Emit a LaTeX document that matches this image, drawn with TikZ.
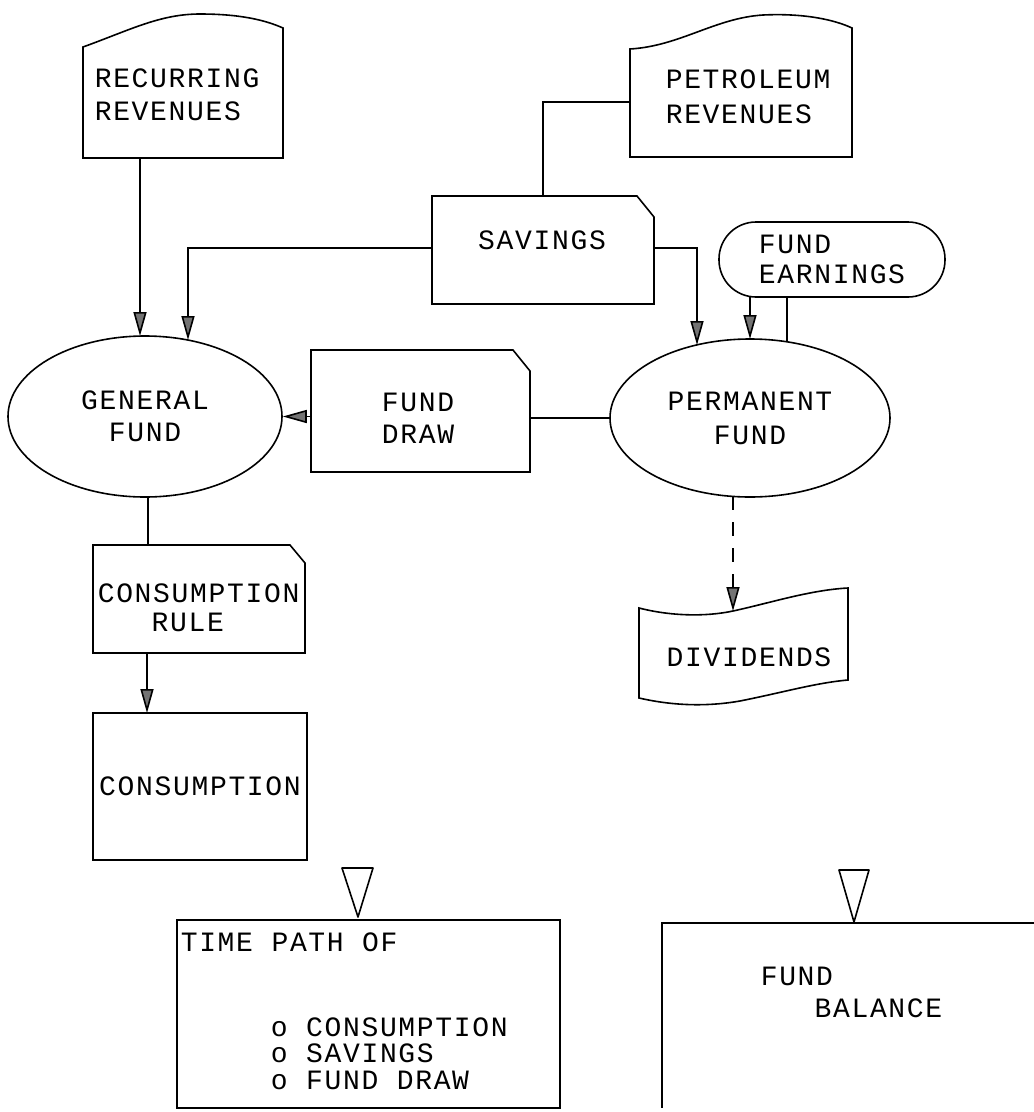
\documentclass[tikz,border=0pt]{standalone}
\usepackage{fontspec}
\newfontfamily\dm[LetterSpace=6]{Liberation Mono}
\usetikzlibrary{arrows.meta,shapes.geometric}
\begin{document}
\begin{tikzpicture}[x=1pt,y=-1pt,
  line width=1.6pt, line join=miter,
  txt/.style={font={\dm\fontsize{28}{33}\selectfont}, inner sep=0pt, align=left},
  lbl/.style={txt, anchor=west},
  arr/.style={-{Triangle[width=13pt,length=24pt,fill=black!55]}},
  marker/.style={line join=round},
]
\fill[white] (0,0) rectangle (1034,1112);
\useasboundingbox (0,0) rectangle (1034,1112);

% ---------- Recurring revenues (document shape)
\draw (83,158) -- (83,47) .. controls (130,30) and (160,14) .. (200,14)
      .. controls (240,14) and (265,20) .. (283,28) -- (283,158) -- cycle;
\node[lbl, font={\dm\fontsize{28}{32.5}\selectfont}] (rec) at (94,94.7) {RECURRING\\REVENUES};
\coordinate (recB) at (140,158);

% ---------- Petroleum revenues (document shape)
\draw (630,157) -- (630,49) .. controls (680,46) and (715,18) .. (763,15)
      .. controls (805,13) and (835,20) .. (852,28) -- (852,157) -- cycle;
\node[lbl, font={\dm\fontsize{28}{35}\selectfont}] (pet) at (665,97) {PETROLEUM\\REVENUES};
\coordinate (petL) at (630,102);

% ---------- Savings (cut corner card)
\draw (432,196) -- (637,196) -- (654,217) -- (654,304) -- (432,304) -- cycle;
\node[txt] (sav) at (542,240) {SAVINGS};
\coordinate (savT) at (543,196);
\coordinate (savL) at (432,248);
\coordinate (savR) at (654,248);

% ---------- Fund earnings (stadium)
\node[draw, rounded corners=37pt, minimum width=226pt, minimum height=75pt,
      txt, font={\dm\fontsize{28}{30}\selectfont}] (earn) at (832,259.5) {FUND\\EARNINGS};
\coordinate (earnB1) at (750,297);
\coordinate (earnB2) at (787,297);

% ---------- General fund
\node[draw, ellipse, minimum width=274pt, minimum height=161pt, txt, align=center,
      font={\dm\fontsize{28}{32}\selectfont}] (gf) at (145,416.5) {GENERAL\\FUND};
\coordinate (gfT1) at (140,336);
\coordinate (gfT2) at (188,340);
\coordinate (gfB) at (148,497);

% ---------- Fund draw (cut corner card)
\draw (311,350) -- (513,350) -- (530,371) -- (530,472) -- (311,472) -- cycle;
\node[txt, font={\dm\fontsize{28}{32}\selectfont}] (fd) at (418,418) {FUND\\DRAW};
\coordinate (fdL) at (311,416.5);
\coordinate (fdR) at (530,418);

% ---------- Permanent fund
\node[draw, ellipse, minimum width=280pt, minimum height=158pt, txt, align=center,
      font={\dm\fontsize{28}{34}\selectfont}] (pf) at (750,418) {PERMANENT\\FUND};
\coordinate (pfT1) at (697,345);
\coordinate (pfT2) at (750,339);
\coordinate (pfT3) at (787,342);
\coordinate (pfB) at (733,496.4);

% ---------- Consumption rule (cut corner card)
\draw (93,545) -- (290,545) -- (305,563) -- (305,653) -- (93,653) -- cycle;
\node[lbl, font={\dm\fontsize{28}{29}\selectfont}] (cr) at (97,607.5) {CONSUMPTION\\\phantom{CON}RULE};
\coordinate (crT) at (148,545);
\coordinate (crB) at (147,653);

% ---------- Consumption
\node[draw, minimum width=214pt, minimum height=147pt, txt] (cons) at (200,786.5) {CONSUMPTION};
\coordinate (consT) at (147,713);

% ---------- Dividends (wavy document)
\draw (639,698) -- (639,608) .. controls (670,616) and (705,617) .. (733,611)
      .. controls (770,603) and (810,590) .. (848,588) -- (848,680)
      .. controls (815,683) and (785,692) .. (740,701)
      .. controls (700,708) and (665,704) .. (639,698) -- cycle;
\node[txt] (div) at (749,657) {DIVIDENDS};
\coordinate (divT) at (733,611);

% ---------- Time path report
\node[draw, minimum width=383pt, minimum height=188pt, inner sep=0pt] (tp) at (368.5,1014) {};
\node[lbl] (tp1) at (180,942) {TIME PATH OF};
\node[lbl, font={\dm\fontsize{28}{26.5}\selectfont}] (tp2) at (270,1053.5) {o CONSUMPTION\\o SAVINGS\\o FUND DRAW};
\draw[marker] (342,868) -- (373,868) -- (358,917) -- cycle;

% ---------- Fund balance report
\draw (1034,923) -- (662,923) -- (662,1108);
\node[lbl, font={\dm\fontsize{28}{32}\selectfont}] (fb) at (760,992) {FUND\\\phantom{FUN}BALANCE};
\draw[marker] (839,870) -- (869,870) -- (854,922) -- cycle;

% ---------- Connectors
\draw[arr] (recB) -- (gfT1);
\draw[arr] (savL) -| (gfT2);
\draw (petL) -| (savT);
\draw[arr] (savR) -| (pfT1);
\draw[arr] (earnB1) -- (pfT2);
\draw (pfT3) -- (earnB2);
\draw[arr] (fdL) -- (gf.east);
\draw (pf.west) -- (fdR);
\draw (gfB) -- (crT);
\draw[arr] (crB) -- (consT);
\draw[arr, dash pattern=on 14pt off 12pt] (pfB) -- (divT);
\end{tikzpicture}
\end{document}
